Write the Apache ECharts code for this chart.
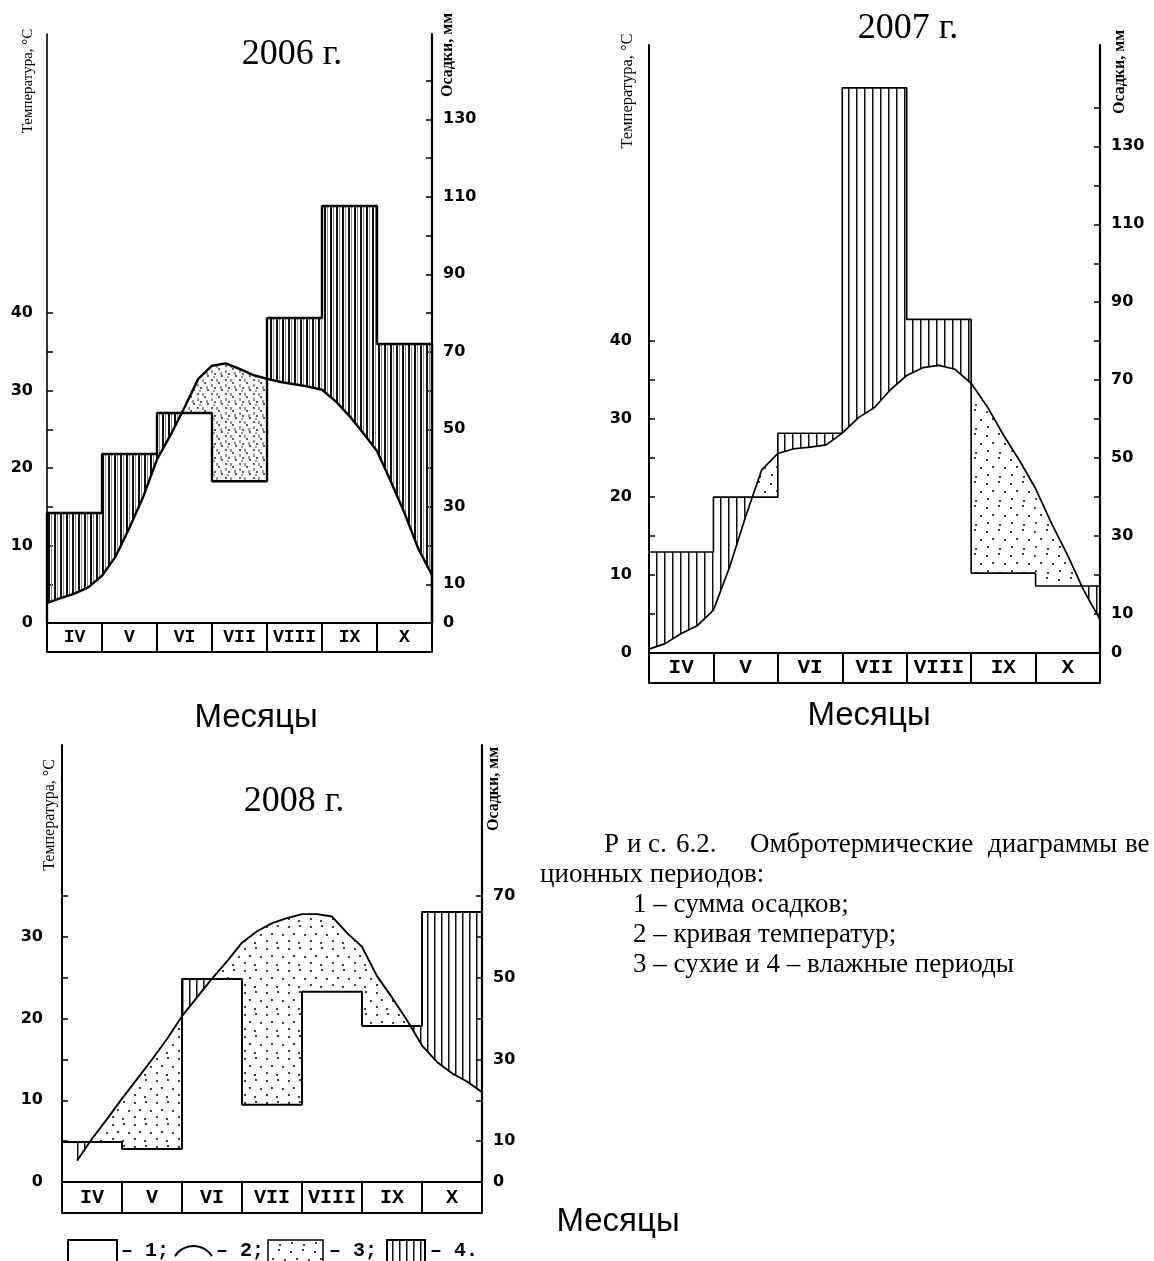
<!DOCTYPE html>
<html><head><meta charset="utf-8">
<script src="https://cdn.jsdelivr.net/npm/echarts@6/dist/echarts.min.js"></script>
<style>html,body{margin:0;padding:0;background:#fff;}#c{width:1154px;height:1261px;}</style>
</head><body><div id="c"></div>
<script>
// ---------- data ----------
const months = ['IV','V','VI','VII','VIII','IX','X'];
const monthEdges = [0,1,2,3,4,5,6,7];
const monthCenters = [0.5,1.5,2.5,3.5,4.5,5.5,6.5];

const precip2006 = [28.4, 43.6, 54.2, 36.6, 78.7, 107.6, 72];
const tempX2006 = [0,0.25,0.5,0.75,1,1.25,1.5,1.75,2,2.25,2.5,2.75,3,3.25,3.5,3.75,4,4.25,4.5,4.75,5,5.25,5.5,5.75,6,6.25,6.5,6.75,7];
const temp2006 = [2.6,3.2,3.8,4.6,6.1,8.6,12.3,16.3,21.1,24.3,27.8,31.5,33.2,33.5,32.8,32.0,31.5,31.1,30.8,30.5,30.1,28.6,26.7,24.5,22.2,18.3,14.2,9.6,6.2];

const precip2007 = [25.9, 40, 56.4, 145, 85.6, 20.5, 17.2];
const tempX2007 = [0,0.25,0.5,0.75,1,1.25,1.5,1.75,2,2.25,2.5,2.75,3,3.25,3.5,3.75,4,4.25,4.5,4.75,5,5.25,5.5,5.75,6,6.25,6.5,6.75,7];
const temp2007 = [0.5,1.2,2.5,3.5,5.5,11,17.5,23.5,25.6,26.2,26.4,26.7,28.2,30.2,31.5,33.8,35.6,36.6,36.9,36.4,34.6,31.6,28.0,24.7,21.1,16.6,12.5,8.0,4.3];

const precip2008 = [9.8, 8.1, 49.7, 18.9, 46.6, 38.2, 66.1];
const tempX2008 = [0.25,0.5,0.75,1,1.25,1.5,1.75,2,2.25,2.5,2.75,3,3.25,3.5,3.75,4,4.25,4.5,4.75,5,5.25,5.5,5.75,6,6.25,6.5,6.75,7];
const temp2008 = [2.6,5.3,7.7,10.2,12.6,15.0,17.5,20.3,22.6,24.9,27.0,29.3,30.7,31.7,32.3,32.8,32.8,32.5,30.5,28.8,25.2,22.6,19.8,16.7,14.7,13.3,12.3,11.0];

const tempLabels = [0,10,20,30,40];
const tempLabels2008 = [0,10,20,30];
const tempTicks = [5,10,15,20,25,30,35,40];
const tempTicks2008 = [5,10,15,20,25,30,35];
const precipLabels = [0,10,30,50,70,90,110,130];
const precipLabels2008 = [0,10,30,50,70];
const precipTicks = [10,20,30,40,50,60,70,80,90,100,110,120,130,140];
const precipTicks2008 = [10,20,30,40,50,60,70];

// ---------- patterns ----------
function hatchPattern(w, lw, gray) {
  const c = document.createElement('canvas'); c.width = w; c.height = 4;
  const g = c.getContext('2d'); g.fillStyle = '#111'; g.fillRect(0, 0, lw, 4);
  if (gray) { g.fillStyle = gray; g.fillRect(Math.round(w / 2), 0, 1, 4); }
  return {image: c, repeat: 'repeat'};
}
function dotPattern(size, pts, r, grays) {
  const c = document.createElement('canvas'); c.width = size; c.height = size;
  const g = c.getContext('2d'); g.fillStyle = '#111';
  pts.forEach(p => { g.beginPath(); g.arc(p[0], p[1], r, 0, Math.PI * 2); g.fill(); });
  if (grays) { g.fillStyle = '#9a9a9a'; grays.forEach(p => g.fillRect(p[0], p[1], 2, 3)); }
  return {image: c, repeat: 'repeat'};
}
const hatchA = hatchPattern(6, 2, '#8a8a8a');
const hatchB = hatchPattern(8, 1.5, null);
const hatchC = hatchPattern(7, 1.5, null);
const dotsA = dotPattern(14, [[2,2],[9,5],[5,10],[12,12]], 0.9, [[6,1],[1,6],[10,8],[3,12]]);
const dotsB = dotPattern(24, [[3,4],[15,2],[9,11],[21,12],[4,19],[16,21]], 1.1);
const dotsC = dotPattern(22, [[3,3],[14,2],[8,10],[19,11],[3,17],[13,19]], 1.1);

// ---------- geometry helpers ----------
function T(xs, ts, x) {
  for (let k = 0; k < xs.length - 1; k++) {
    if (x >= xs[k] && x <= xs[k + 1]) return ts[k] + (ts[k + 1] - ts[k]) * (x - xs[k]) / (xs[k + 1] - xs[k]);
  }
  return ts[ts.length - 1];
}
function monthPolys(i, b, xs, ts) {
  const lo = Math.max(i, xs[0]), hi = Math.min(i + 1, xs[xs.length - 1]);
  if (lo >= hi) return null;
  const base = [lo]; xs.forEach(x => { if (x > lo && x < hi) base.push(x); }); base.push(hi);
  const full = [base[0]];
  for (let j = 1; j < base.length; j++) {
    const a = base[j - 1], c = base[j], ta = T(xs, ts, a), tc = T(xs, ts, c);
    if ((ta - b) * (tc - b) < 0) full.push(a + (b - ta) / (tc - ta) * (c - a));
    full.push(c);
  }
  const hatch = full.map(x => [x, b]).concat(full.slice().reverse().map(x => [x, Math.min(T(xs, ts, x), b)]));
  const dots = full.map(x => [x, Math.max(T(xs, ts, x), b)]).concat(full.slice().reverse().map(x => [x, b]));
  return {hatch, dots};
}

// ---------- chart configs ----------
const charts = [
  {precip: precip2006, tempX: tempX2006, temp: temp2006, left: 47, top: 34, width: 385, height: 589, tMax: 76,
   boxH: 29, mFont: 18, tLabels: tempLabels, tTicks: tempTicks, pLabels: precipLabels, pTicks: precipTicks,
   hatch: hatchA, dots: dotsA, stepW: 2.4, tempW: 2.4, leftW: 1.6, tMargin: 14},
  {precip: precip2007, tempX: tempX2007, temp: temp2007, left: 649, top: 45, width: 451, height: 608, tMax: 78,
   boxH: 30, mFont: 21, tLabels: tempLabels, tTicks: tempTicks, pLabels: precipLabels, pTicks: precipTicks,
   hatch: hatchB, dots: dotsB, stepW: 1.6, tempW: 1.7, leftW: 2, tMargin: 17},
  {precip: precip2008, tempX: tempX2008, temp: temp2008, left: 62, top: 745, width: 420, height: 437, tMax: 53.5,
   boxH: 31, mFont: 20, tLabels: tempLabels2008, tTicks: tempTicks2008, pLabels: precipLabels2008, pTicks: precipTicks2008,
   hatch: hatchC, dots: dotsC, stepW: 2, tempW: 1.9, leftW: 2, tMargin: 19}
];

const grid = [], xAxis = [], yAxis = [], series = [];
const numFont = {color: '#000', fontFamily: 'DejaVu Sans', fontWeight: 'bold', fontSize: 16};
charts.forEach((cf, gi) => {
  const ratio = 2; // precipitation scale = 2 x temperature scale
  grid.push({left: cf.left, top: cf.top, width: cf.width, height: cf.height, containLabel: false, outerBoundsMode: 'none'});
  xAxis.push({gridIndex: gi, type: 'value', min: 0, max: 7, position: 'bottom',
    axisLine: {show: true, onZero: false, lineStyle: {color: '#000', width: 2}},
    axisTick: {show: true, customValues: monthEdges, length: cf.boxH, lineStyle: {color: '#000', width: 2}},
    axisLabel: {show: true, customValues: monthCenters, formatter: v => months[Math.floor(v)], margin: cf.boxH / 2,
      verticalAlign: 'middle', color: '#000', fontFamily: 'Liberation Mono', fontWeight: 'bold', fontSize: cf.mFont},
    splitLine: {show: false}});
  xAxis.push({gridIndex: gi, type: 'value', min: 0, max: 7, position: 'bottom', offset: cf.boxH,
    axisLine: {show: true, onZero: false, lineStyle: {color: '#000', width: 2}},
    axisTick: {show: false}, axisLabel: {show: false}, splitLine: {show: false}});
  yAxis.push({gridIndex: gi, type: 'value', min: 0, max: cf.tMax, position: 'left',
    axisLine: {show: true, onZero: false, lineStyle: {color: '#000', width: cf.leftW}},
    axisTick: {show: true, inside: true, length: 6, customValues: cf.tTicks, lineStyle: {color: '#000', width: 1.5}},
    axisLabel: Object.assign({show: true, customValues: cf.tLabels, margin: cf.tMargin}, numFont),
    splitLine: {show: false}});
  yAxis.push({gridIndex: gi, type: 'value', min: 0, max: cf.tMax * ratio, position: 'right',
    axisLine: {show: true, onZero: false, lineStyle: {color: '#000', width: 2.2}},
    axisTick: {show: true, inside: true, length: 6, customValues: cf.pTicks, lineStyle: {color: '#000', width: 1.5}},
    axisLabel: Object.assign({show: true, customValues: cf.pLabels, margin: 11}, numFont),
    splitLine: {show: false}});
  series.push({type: 'custom', coordinateSystem: 'cartesian2d', xAxisIndex: gi * 2, yAxisIndex: gi * 2, z: 1, silent: true,
    data: months.map((m, i) => [i + 0.5, 1]),
    renderItem: (params, api) => {
      const i = params.dataIndex;
      const polys = monthPolys(i, cf.precip[i] / ratio, cf.tempX, cf.temp);
      if (!polys) return null;
      const px = pts => pts.map(p => api.coord(p));
      return {type: 'group', children: [
        {type: 'polygon', shape: {points: px(polys.hatch)}, style: {fill: cf.hatch, stroke: null}},
        {type: 'polygon', shape: {points: px(polys.dots)}, style: {fill: cf.dots, stroke: null}}
      ]};
    }});
  series.push({type: 'line', xAxisIndex: gi * 2, yAxisIndex: gi * 2 + 1, step: 'end', symbol: 'none', clip: false, z: 3, silent: true,
    data: [[0, 0]].concat(cf.precip.map((v, i) => [i, v])).concat([[7, 0]]),
    lineStyle: {color: '#000', width: cf.stepW}});
  series.push({type: 'line', xAxisIndex: gi * 2, yAxisIndex: gi * 2, symbol: 'none', clip: false, z: 4, silent: true,
    data: cf.tempX.map((x, k) => [x, cf.temp[k]]),
    lineStyle: {color: '#000', width: cf.tempW}});
});

// ---------- texts ----------
function txt(x, y, text, font, align, rot) {
  const o = {type: 'text', x: x, y: y, silent: true,
    style: {text: text, font: font, fill: '#000', textAlign: align || 'center', textVerticalAlign: 'middle',
      align: align || 'center', verticalAlign: 'middle'}};
  if (rot) o.rotation = rot;
  return o;
}
const R = Math.PI / 2;
const capFont = '27px "Liberation Serif"';
const legFont = 'bold 20px "Liberation Mono"';
const graphic = [
  txt(292, 55, '2006 г.', '36px "Liberation Serif"'),
  txt(908, 29, '2007 г.', '36px "Liberation Serif"'),
  txt(294, 802, '2008 г.', '36px "Liberation Serif"'),
  txt(28, 81, 'Температура, °C', '15px "Liberation Serif"', 'center', R),
  txt(448, 55, 'Осадки, мм', 'bold 16px "Liberation Serif"', 'center', R),
  txt(628, 91, 'Температура, °C', '16.5px "Liberation Serif"', 'center', R),
  txt(1120, 72, 'Осадки, мм', 'bold 16px "Liberation Serif"', 'center', R),
  txt(50, 815, 'Температура, °C', '16px "Liberation Serif"', 'center', R),
  txt(494, 789, 'Осадки, мм', 'bold 16px "Liberation Serif"', 'center', R),
  txt(256, 718, 'Месяцы', '33px "Liberation Sans"'),
  txt(869, 716, 'Месяцы', '33px "Liberation Sans"'),
  txt(618, 1222, 'Месяцы', '33px "Liberation Sans"'),
  txt(604, 845, 'Р', capFont, 'left'),
  txt(627, 845, 'и', capFont, 'left'),
  txt(648, 845, 'с.', capFont, 'left'),
  txt(676, 845, '6.2.', capFont, 'left'),
  txt(750, 845, 'Омбротермические', capFont, 'left'),
  txt(988, 845, 'диаграммы', capFont, 'left'),
  txt(1125, 845, 'ве', capFont, 'left'),
  txt(540, 875, 'ционных периодов:', capFont, 'left'),
  txt(633, 905, '1 – сумма осадков;', capFont, 'left'),
  txt(633, 935, '2 – кривая температур;', capFont, 'left'),
  txt(633, 965, '3 – сухие и 4 – влажные периоды', capFont, 'left'),
  // legend
  {type: 'rect', shape: {x: 68, y: 1240, width: 49, height: 30}, style: {fill: null, stroke: '#000', lineWidth: 2}, silent: true},
  txt(121, 1251, '– 1;', legFont, 'left'),
  {type: 'arc', shape: {cx: 193.5, cy: 1268, r: 22, startAngle: -Math.PI / 2 - 1.0, endAngle: -Math.PI / 2 + 1.0, clockwise: true},
   style: {fill: null, stroke: '#000', lineWidth: 2}, silent: true},
  txt(216, 1251, '– 2;', legFont, 'left'),
  {type: 'rect', shape: {x: 268, y: 1240, width: 55, height: 30}, style: {fill: dotsB, stroke: '#000', lineWidth: 1.5}, silent: true},
  txt(329, 1251, '– 3;', legFont, 'left'),
  {type: 'rect', shape: {x: 387, y: 1240, width: 38, height: 30}, style: {fill: hatchC, stroke: '#000', lineWidth: 2}, silent: true},
  txt(430, 1251, '– 4.', legFont, 'left')
];

const chart = echarts.init(document.getElementById('c'), null, {renderer: 'canvas'});
chart.setOption({backgroundColor: '#fff', animation: false, grid, xAxis, yAxis, series, graphic});
</script></body></html>
